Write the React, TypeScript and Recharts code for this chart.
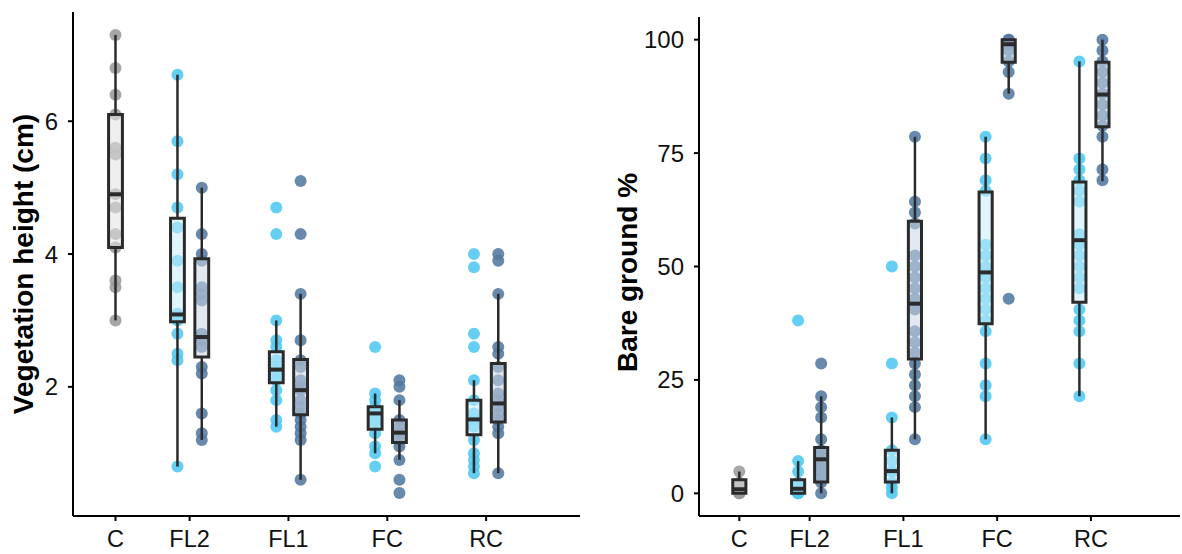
import { ScatterChart, Scatter, XAxis, YAxis, ReferenceArea, ReferenceLine } from 'recharts';

// categories on the x axis (C sits a bit closer to FL2 in the original)
const categories = ['C', 'FL2', 'FL1', 'FC', 'RC'];
const categoryX = [1.25, 2, 3, 4, 5];

// Vegetation height (cm)
const heightControl = [7.3, 6.8, 6.4, 6.1, 5.6, 5.5, 4.9, 4.7, 4.3, 4.1, 3.6, 3.5, 3.0];
const heightGroupA = [
  [6.7, 5.7, 5.2, 4.7, 4.4, 3.9, 3.5, 3.1, 3.0, 2.8, 2.5, 2.4, 0.8],
  [4.7, 4.3, 3.0, 2.7, 2.6, 2.4, 2.3, 2.2, 2.1, 1.95, 1.8, 1.5, 1.4],
  [2.6, 1.9, 1.8, 1.7, 1.6, 1.5, 1.45, 1.3, 1.1, 1.0, 0.8],
  [4.0, 3.8, 2.8, 2.6, 2.1, 1.8, 1.6, 1.5, 1.4, 1.2, 1.0, 0.9, 0.8, 0.7],
];
const heightGroupB = [
  [5.0, 4.3, 4.0, 3.9, 3.5, 3.4, 3.3, 2.8, 2.7, 2.6, 2.3, 2.2, 1.6, 1.3, 1.2],
  [5.1, 4.3, 3.4, 2.7, 2.4, 2.3, 2.1, 2.0, 1.95, 1.8, 1.7, 1.6, 1.5, 1.4, 1.3, 1.2, 0.6],
  [2.1, 2.0, 1.8, 1.5, 1.4, 1.3, 1.2, 1.1, 0.9, 0.6, 0.4],
  [4.0, 3.9, 3.4, 2.6, 2.5, 2.3, 2.1, 1.9, 1.8, 1.7, 1.6, 1.5, 1.4, 1.3, 0.7],
];
// box stats: [lower whisker, q1, median, q3, upper whisker]
const heightBoxControl = [3.0, 4.1, 4.9, 6.1, 7.3];
const heightBoxA = [
  [0.8, 2.98, 3.09, 4.54, 6.7],
  [1.4, 2.06, 2.26, 2.53, 3.0],
  [1.0, 1.36, 1.6, 1.7, 1.9],
  [0.7, 1.28, 1.51, 1.8, 2.1],
];
const heightBoxB = [
  [1.2, 2.45, 2.75, 3.93, 5.0],
  [0.6, 1.58, 1.95, 2.41, 3.4],
  [0.9, 1.16, 1.31, 1.5, 1.8],
  [0.7, 1.47, 1.75, 2.35, 3.4],
];
const heightTicks = [2, 4, 6];

// Bare ground %
const groundControl = [4.8, 2.4, 1.2, 0, 0, 0];
const groundGroupA = [
  [38.1, 7.1, 4.8, 2.4, 1.2, 0, 0, 0],
  [50, 28.6, 16.7, 9.5, 7.1, 4.8, 4.8, 2.4, 1.2, 0],
  [78.6, 73.8, 69, 66.7, 54.8, 52.4, 50, 47.6, 45.2, 42.9, 40.5, 38.1, 35.7, 28.6, 23.8, 21.4, 11.9],
  [95.2, 73.8, 71.4, 69, 66.7, 64.3, 57.1, 54.8, 52.4, 50, 47.6, 45.2, 40.5, 38.1, 35.7, 28.6, 21.4],
];
const groundGroupB = [
  [28.6, 21.4, 19, 16.7, 11.9, 9.5, 8.3, 7.1, 6, 4.8, 3.6, 2.4, 0],
  [78.6, 64.3, 61.9, 59.5, 52.4, 50, 47.6, 45.2, 42.9, 40.5, 35.7, 33.3, 31, 28.6, 26.2, 23.8, 21.4, 19, 11.9],
  [100, 100, 99, 97.6, 95.2, 92.9, 88.1, 42.9],
  [100, 97.6, 95.2, 92.9, 90.5, 88.1, 85.7, 83.3, 81, 78.6, 71.4, 69],
];
const groundBoxControl = [0, 0, 0.9, 3.0, 4.8];
const groundBoxA = [
  [0, 0, 1.0, 3.0, 7.1],
  [0, 2.5, 4.9, 9.5, 16.7],
  [11.9, 37.4, 48.7, 66.4, 78.6],
  [21.4, 42.1, 55.8, 68.6, 95.2],
];
const groundBoxB = [
  [0, 2.5, 7.5, 10.1, 21.4],
  [11.9, 29.6, 41.8, 60.0, 78.6],
  [88.1, 95, 99, 100, 100],
  [68.8, 80.8, 87.9, 95.0, 100],
];
const groundTicks = [0, 25, 50, 75, 100];

const FONT = '"Liberation Sans", Arial, sans-serif';
const DODGE = 0.123;
const HALF_BOX = 0.07;
const colors = { control: '#9a9a9a', a: '#4fc8f1', b: '#52799f' };
const boxFills = { control: '#e2e2e2', a: '#c8eefa', b: '#cad6e3' };

const dot = (color: string) => (props: any) =>
  <circle cx={props.cx} cy={props.cy} r={6} fill={color} fillOpacity={0.88} />;

function renderBoxes(stats: number[][], xs: number[], fill: string, key: string) {
  return stats.flatMap((s, i) => {
    const x = xs[i];
    const [lo, q1, med, q3, hi] = s;
    return [
      <ReferenceLine key={key + 'wl' + i} segment={[{ x, y: lo }, { x, y: q1 }]} stroke="#2b2b2b" strokeWidth={2.5} zIndex={700} />,
      <ReferenceLine key={key + 'wh' + i} segment={[{ x, y: q3 }, { x, y: hi }]} stroke="#2b2b2b" strokeWidth={2.5} zIndex={700} />,
      <ReferenceArea key={key + 'b' + i} x1={x - HALF_BOX} x2={x + HALF_BOX} y1={q1} y2={q3}
        fill={fill} fillOpacity={0.55} stroke="#2b2b2b" strokeWidth={3} zIndex={710} />,
      <ReferenceLine key={key + 'm' + i} segment={[{ x: x - HALF_BOX, y: med }, { x: x + HALF_BOX, y: med }]}
        stroke="#2b2b2b" strokeWidth={4} zIndex={720} />,
    ];
  });
}

interface PanelProps {
  yLabel: string;
  yDomain: [number, number];
  yTicks: number[];
  control: number[];
  groupA: number[][];
  groupB: number[][];
  boxControl: number[];
  boxA: number[][];
  boxB: number[][];
  width: number;
  yAxisWidth: number;
  top: number;
  right: number;
  labelDx: number;
  labelDy: number;
}

function BoxPanel(p: PanelProps) {
  const xA = categoryX.slice(1).map(x => x - DODGE);
  const xB = categoryX.slice(1).map(x => x + DODGE);
  const controlData = p.control.map(y => ({ x: categoryX[0], y }));
  const aData = p.groupA.flatMap((vals, i) => vals.map(y => ({ x: xA[i], y })));
  const bData = p.groupB.flatMap((vals, i) => vals.map(y => ({ x: xB[i], y })));

  return (
    <ScatterChart width={p.width} height={554} margin={{ top: p.top, right: p.right, bottom: 0, left: 0 }}>
      <XAxis
        type="number"
        dataKey="x"
        domain={[0.82, 5.95]}
        ticks={categoryX}
        interval={0}
        allowDataOverflow
        tickFormatter={(v: number) => categories[categoryX.indexOf(v)] ?? ''}
        height={38}
        axisLine={{ stroke: '#000', strokeWidth: 2 }}
        tickLine={{ stroke: '#000', strokeWidth: 2 }}
        tickSize={5}
        tickMargin={9}
        tick={{ fill: '#111', fontSize: 23.5, fontFamily: FONT }}
      />
      <YAxis
        type="number"
        dataKey="y"
        domain={p.yDomain}
        ticks={p.yTicks}
        interval={0}
        allowDataOverflow
        width={p.yAxisWidth}
        axisLine={{ stroke: '#000', strokeWidth: 2 }}
        tickLine={{ stroke: '#000', strokeWidth: 2 }}
        tickSize={5}
        tickMargin={10}
        tick={{ fill: '#111', fontSize: 24, fontFamily: FONT }}
        label={{
          value: p.yLabel,
          angle: -90,
          position: 'center',
          dx: p.labelDx,
          dy: p.labelDy,
          style: { fontSize: 28, fontWeight: 'bold', fontFamily: FONT, fill: '#000', textAnchor: 'middle' },
        }}
      />
      <Scatter data={controlData} shape={dot(colors.control)} isAnimationActive={false} />
      <Scatter data={aData} shape={dot(colors.a)} isAnimationActive={false} />
      <Scatter data={bData} shape={dot(colors.b)} isAnimationActive={false} />
      {renderBoxes([p.boxControl], [categoryX[0]], boxFills.control, 'c')}
      {renderBoxes(p.boxA, xA, boxFills.a, 'a')}
      {renderBoxes(p.boxB, xB, boxFills.b, 'b')}
    </ScatterChart>
  );
}

export default function App() {
  return (
    <div style={{ position: 'absolute', left: 0, top: 0, width: 1182, height: 554, display: 'flex', background: '#fff' }}>
      <BoxPanel
        yLabel="Vegetation height (cm)"
        yDomain={[0.055, 7.645]}
        yTicks={heightTicks}
        control={heightControl}
        groupA={heightGroupA}
        groupB={heightGroupB}
        boxControl={heightBoxControl}
        boxA={heightBoxA}
        boxB={heightBoxB}
        width={590}
        yAxisWidth={73}
        top={12}
        right={10}
        labelDx={-13}
        labelDy={0}
      />
      <BoxPanel
        yLabel="Bare ground %"
        yDomain={[-5, 105]}
        yTicks={groundTicks}
        control={groundControl}
        groupA={groundGroupA}
        groupB={groundGroupB}
        boxControl={groundBoxControl}
        boxA={groundBoxA}
        boxB={groundBoxB}
        width={592}
        yAxisWidth={109}
        top={17}
        right={2}
        labelDx={-17}
        labelDy={6}
      />
    </div>
  );
}
